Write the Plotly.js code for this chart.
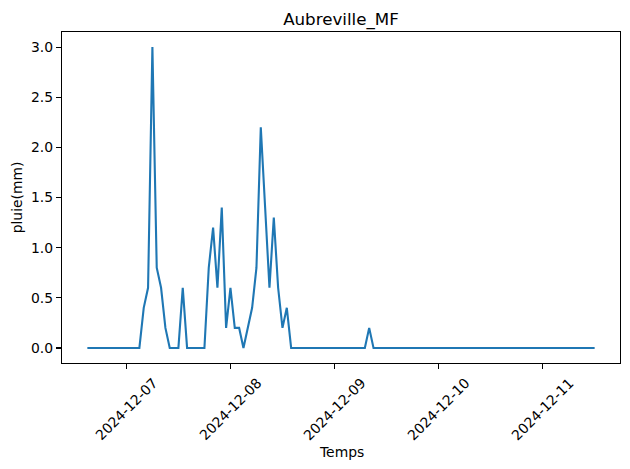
<!DOCTYPE html>
<html>
<head>
<meta charset="utf-8">
<script src="https://cdn.plot.ly/plotly-3.0.1.min.js"></script>
<style>html,body{margin:0;padding:0;background:#fff}#chart{width:630px;height:469px}</style>
</head>
<body>
<div id="chart"></div>
<script>
// Hourly rainfall, starting 2024-12-06 15:00
const startTime = "2024-12-06T15:00:00Z";
const rain_2024_12_06 = [0,0,0,0,0,0,0,0,0]; // 15:00..23:00
const rain_2024_12_07 = [0,0,0,0,0.4,0.6,3.0,0.8,0.6,0.2,0,0,0,0.6,0,0,0,0,0,0.8,1.2,0.6,1.4,0.2];
const rain_2024_12_08 = [0.6,0.2,0.2,0,0.2,0.4,0.8,2.2,1.4,0.6,1.3,0.6,0.2,0.4,0,0,0,0,0,0,0,0,0,0];
const rain_2024_12_09 = [0,0,0,0,0,0,0,0,0.2,0,0,0,0,0,0,0,0,0,0,0,0,0,0,0];
const rain_2024_12_10 = [0,0,0,0,0,0,0,0,0,0,0,0,0,0,0,0,0,0,0,0,0,0,0,0];
const rain_2024_12_11 = [0,0,0,0,0,0,0,0,0,0,0,0,0]; // 00:00..12:00
const tickDates = ["2024-12-07","2024-12-08","2024-12-09","2024-12-10","2024-12-11"];
const titleText = "Aubreville_MF";
const xLabel = "Temps";
const yLabel = "pluie(mm)";

const rain = [].concat(rain_2024_12_06, rain_2024_12_07, rain_2024_12_08, rain_2024_12_09, rain_2024_12_10, rain_2024_12_11);
const t0 = Date.parse(startTime);
const times = rain.map((_, i) => new Date(t0 + i * 3600000).toISOString().slice(0, 16).replace("T", " "));

// matplotlib-like 5% margins
const tStart = t0, tEnd = t0 + (rain.length - 1) * 3600000;
const pad = (tEnd - tStart) * 0.05;
const fmt = ms => new Date(ms).toISOString().slice(0, 19).replace("T", " ");
const xRange = [fmt(tStart - pad), fmt(tEnd + pad)];
const yMax = Math.max(...rain), yMin = 0;
const yPad = (yMax - yMin) * 0.05;

const font = {family: "DejaVu Sans", size: 13.9, color: "#000"};

const annotations = tickDates.map(d => ({
  x: d + " 00:00", xref: "x", y: -0.031, yref: "paper",
  text: d, showarrow: false, textangle: -45,
  xanchor: "center", yanchor: "top", font: font, borderpad: 0
}));
annotations.push({
  x: 0.5, xref: "paper", y: -0.242, yref: "paper", text: xLabel, showarrow: false,
  xanchor: "center", yanchor: "top", font: font, borderpad: 0
});
annotations.push({
  x: -0.081, xref: "paper", y: 0.5, yref: "paper", text: yLabel, showarrow: false,
  textangle: -90, xanchor: "center", yanchor: "middle", font: font, borderpad: 0
});

const data = [{
  x: times, y: rain, type: "scatter", mode: "lines",
  line: {color: "#1f77b4", width: 2.1}, hoverinfo: "skip"
}];

const layout = {
  width: 630, height: 469,
  margin: {l: 62, r: 10, t: 32, b: 106, pad: 0},
  paper_bgcolor: "#fff", plot_bgcolor: "#fff",
  showlegend: false,
  title: {text: titleText, font: {family: "DejaVu Sans", size: 16.7, color: "#000"}, x: 0.5, xref: "paper", y: 1, yref: "paper", yanchor: "bottom", pad: {b: 7}},
  xaxis: {
    type: "date", range: xRange, showgrid: false, zeroline: false,
    showline: true, linecolor: "#000", linewidth: 1.1, mirror: true,
    tickmode: "array", tickvals: tickDates.map(d => d + " 00:00"), ticktext: tickDates,
    ticks: "outside", ticklen: 5, tickwidth: 1.1, tickcolor: "#000",
    showticklabels: false
  },
  yaxis: {
    range: [yMin - yPad, yMax + yPad], showgrid: false, zeroline: false,
    showline: true, linecolor: "#000", linewidth: 1.1, mirror: true,
    tickmode: "linear", tick0: 0, dtick: 0.5, tickformat: ".1f",
    ticks: "outside", ticklen: 5, tickwidth: 1.1, tickcolor: "#000",
    tickfont: font
  },
  annotations: annotations
};

Plotly.newPlot("chart", data, layout, {staticPlot: true, displayModeBar: false});
</script>
</body>
</html>
